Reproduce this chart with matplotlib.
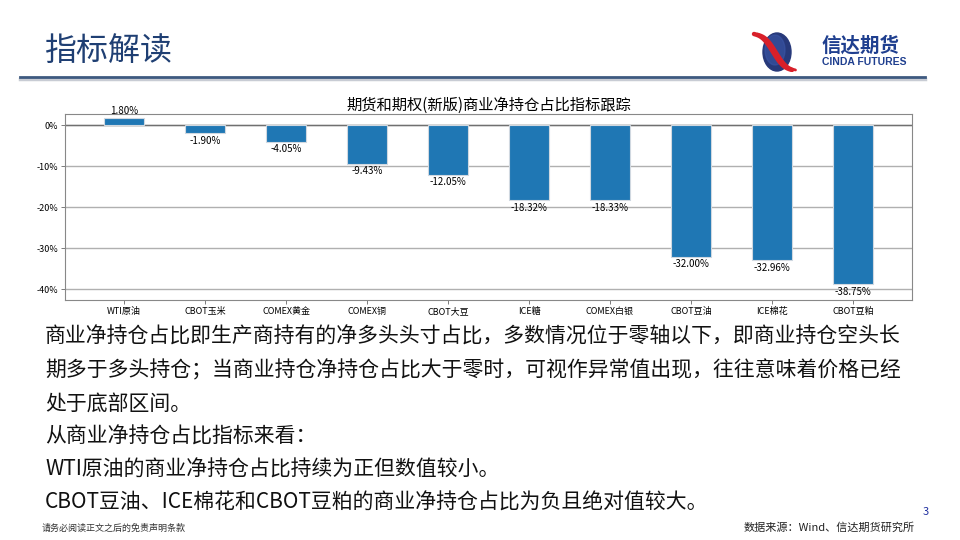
import matplotlib.pyplot as plt
import numpy as np
from matplotlib.patches import Ellipse
from matplotlib.lines import Line2D

plt.rcParams['font.family'] = ['Noto Sans CJK SC', 'DejaVu Sans']
plt.rcParams['axes.unicode_minus'] = False

categories = ['WTI原油', 'CBOT玉米', 'COMEX黄金', 'COMEX铜', 'CBOT大豆',
              'ICE糖', 'COMEX白银', 'CBOT豆油', 'ICE棉花', 'CBOT豆粕']
values = [1.80, -1.90, -4.05, -9.43, -12.05, -18.32, -18.33, -32.00, -32.96, -38.75]
yticks = [0, -10, -20, -30, -40]

body_lines = [
    '商业净持仓占比即生产商持有的净多头头寸占比，多数情况位于零轴以下，即商业持仓空头长',
    '期多于多头持仓；当商业持仓净持仓占比大于零时，可视作异常值出现，往往意味着价格已经',
    '处于底部区间。',
    '从商业净持仓占比指标来看：',
    'WTI原油的商业净持仓占比持续为正但数值较小。',
    'CBOT豆油、ICE棉花和CBOT豆粕的商业净持仓占比为负且绝对值较大。',
]

W, H = 960, 540
fig = plt.figure(figsize=(9.6, 5.4), dpi=100)
fig.patch.set_facecolor('white')

# header
navy = '#1f3f73'
fig.text(44 / W, 1 - 52 / H, '指标解读', fontsize=23, color=navy, va='center', ha='left')
fig.add_artist(Line2D([20 / W, 925 / W], [1 - 79 / H, 1 - 79 / H], color='#c8ccd4', lw=2.5))
fig.add_artist(Line2D([20 / W, 925 / W], [1 - 77 / H, 1 - 77 / H], color='#3e5a80', lw=2))

# logo
lax = fig.add_axes([748 / W, 1 - 72 / H, 50 / W, 42 / H])
lax.set_xlim(0, 50)
lax.set_ylim(0, 42)
lax.axis('off')
lax.add_patch(Ellipse((29, 20), 28, 38, color='#27397a'))
lax.add_patch(Ellipse((27, 22), 20, 30, color='#3a56a6', alpha=0.6))
t = np.linspace(0, 1, 50)
for off, lw in [(0, 3.2), (3.5, 2.0)]:
    xs = 6 + off + 38 * t
    ys = 38 - 36 * t + 4 * np.sin(2 * np.pi * t)
    lax.plot(xs, ys, color='#d8202a', lw=lw, solid_capstyle='round')
fig.text(822 / W, 1 - 46 / H, '信达期货', fontsize=14, color='#1f3f8f',
         fontweight='bold', va='center', ha='left')
fig.text(822 / W, 1 - 62 / H, 'CINDA FUTURES', fontsize=7.5, color='#1f3f8f',
         fontweight='bold', va='center', ha='left', family=['Liberation Sans', 'DejaVu Sans'])

# chart
ax = fig.add_axes([65 / W, 1 - 300 / H, 847 / W, 186 / H])
x = np.arange(len(categories))
ax.bar(x, values, width=0.5, color='#1f77b4', edgecolor='#d0d8e0', linewidth=0.8, zorder=3)
ax.set_xlim(-0.73, 9.73)
ax.set_ylim(-42.6, 2.75)
ax.set_yticks(yticks)
ax.set_yticklabels([f'{v}%' for v in yticks])
ax.set_xticks(x)
ax.set_xticklabels(categories)
ax.tick_params(axis='both', labelsize=6.5, length=3, width=0.6, color='#666666', pad=2)
ax.grid(axis='y', color='#b0b0b0', linewidth=1.0, zorder=0)
ax.axhline(0, color='#707070', linewidth=1.0, zorder=2)
for s in ax.spines.values():
    s.set_color('#888888')
    s.set_linewidth(0.8)
for xi, v in zip(x, values):
    if v >= 0:
        ax.text(xi, v + 0.4, f'{v:.2f}%', ha='center', va='bottom', fontsize=7)
    else:
        ax.text(xi, v - 0.6, f'{v:.2f}%', ha='center', va='top', fontsize=7)
ax.set_title('期货和期权(新版)商业净持仓占比指标跟踪', fontsize=11, pad=3)

# body text
line_y = [337, 370, 404, 437, 470, 503]
for yy, txt in zip(line_y, body_lines):
    fig.text(45 / W, 1 - yy / H, txt, fontsize=15, va='center', ha='left', color='#111111')

# footer
fig.text(42 / W, 1 - 528 / H, '请务必阅读正文之后的免责声明条款', fontsize=6.5,
         va='center', ha='left', color='#333333')
fig.text(915 / W, 1 - 528 / H, '数据来源：Wind、信达期货研究所', fontsize=8,
         va='center', ha='right', color='#222222')
fig.text(926 / W, 1 - 512 / H, '3', fontsize=8, va='center', ha='center', color='#2030a0')

fig.savefig('out.png', dpi=100)
